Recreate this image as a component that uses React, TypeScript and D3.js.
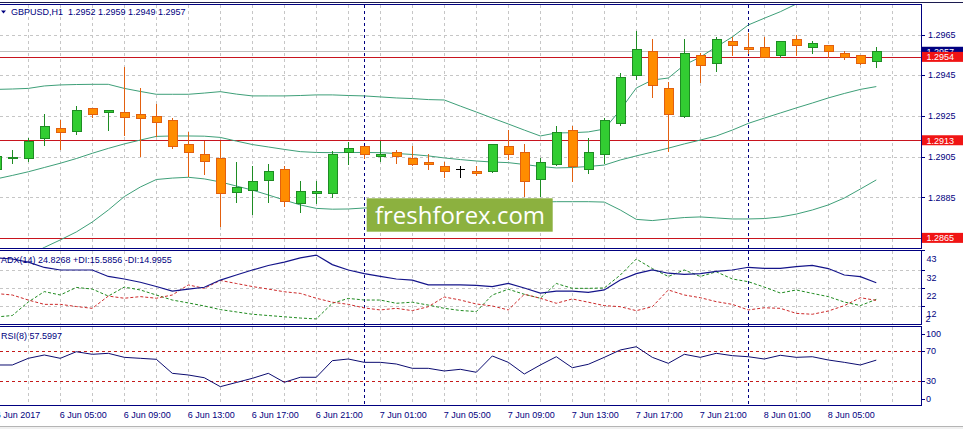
import React from 'react';
import * as d3 from 'd3';

// ---------- DATA ----------
const headerText = 'GBPUSD,H1  1.2952 1.2959 1.2949 1.2957';
const adxHeader = 'ADX(14) 24.8268 +DI:15.5856 -DI:14.9955';
const rsiHeader = 'RSI(8) 57.5997';

// H1 bars from 6 Jun 01:00 to 8 Jun 08:00 (56 bars)
const opens = [1.28990, 1.29043, 1.29041, 1.29140, 1.29189, 1.29177, 1.29287, 1.29268, 1.29268, 1.29258,
  1.29249, 1.29230, 1.29112, 1.29062, 1.29041, 1.28877, 1.28887, 1.28936, 1.28987, 1.28820,
  1.28869, 1.28869, 1.29071, 1.29100, 1.29051, 1.29071, 1.29041, 1.29023, 1.29002, 1.28989,
  1.28979, 1.28977, 1.29100, 1.29071, 1.28938, 1.29012, 1.29179, 1.28987, 1.29060, 1.29216,
  1.29449, 1.29567, 1.29385, 1.29248, 1.29548, 1.29508, 1.29617, 1.29587, 1.29587, 1.29548,
  1.29626, 1.29587, 1.29597, 1.29558, 1.29548, 1.29520];
const highs = [1.29058, 1.29082, 1.29140, 1.29258, 1.29230, 1.29297, 1.29291, 1.29279, 1.29492, 1.29385,
  1.29308, 1.29238, 1.29169, 1.29128, 1.29128, 1.29023, 1.29003, 1.29013, 1.29003, 1.28928,
  1.28928, 1.29079, 1.29120, 1.29104, 1.29128, 1.29082, 1.29102, 1.29062, 1.29023, 1.29005,
  1.29005, 1.29112, 1.29180, 1.29110, 1.29041, 1.29200, 1.29200, 1.29140, 1.29239, 1.29459,
  1.29666, 1.29626, 1.29415, 1.29626, 1.29558, 1.29636, 1.29636, 1.29656, 1.29636, 1.29618,
  1.29646, 1.29617, 1.29598, 1.29567, 1.29549, 1.29590];
const lows = [1.28979, 1.29020, 1.29030, 1.29107, 1.29087, 1.29159, 1.29246, 1.29180, 1.29156, 1.29053,
  1.29151, 1.29090, 1.28956, 1.28964, 1.28708, 1.28828, 1.28768, 1.28828, 1.28808, 1.28779,
  1.28820, 1.28853, 1.29012, 1.29041, 1.29030, 1.29020, 1.29010, 1.28987, 1.28948, 1.28948,
  1.28958, 1.28976, 1.29039, 1.28857, 1.28857, 1.29010, 1.28928, 1.28968, 1.29017, 1.29207,
  1.29430, 1.29344, 1.29079, 1.29244, 1.29418, 1.29469, 1.29548, 1.29558, 1.29537, 1.29538,
  1.29548, 1.29558, 1.29538, 1.29528, 1.29507, 1.29490];
const closes = [1.29053, 1.29049, 1.29128, 1.29200, 1.29169, 1.29277, 1.29258, 1.29277, 1.29246, 1.29238,
  1.29218, 1.29102, 1.29071, 1.29030, 1.28869, 1.28899, 1.28928, 1.28977, 1.28830, 1.28879,
  1.28879, 1.29062, 1.29091, 1.29061, 1.29062, 1.29051, 1.29012, 1.29012, 1.28977, 1.28989,
  1.28968, 1.29110, 1.29061, 1.28928, 1.29022, 1.29169, 1.29002, 1.29071, 1.29228, 1.29440,
  1.29577, 1.29400, 1.29258, 1.29558, 1.29499, 1.29626, 1.29597, 1.29577, 1.29538, 1.29617,
  1.29597, 1.29607, 1.29567, 1.29538, 1.29508, 1.29570];

const bbUpper = [1.29380, 1.29382, 1.29385, 1.29397, 1.29402, 1.29404, 1.29405, 1.29405, 1.29385, 1.29370,
  1.29356, 1.29356, 1.29356, 1.29362, 1.29369, 1.29357, 1.29348, 1.29348, 1.29348, 1.29350,
  1.29353, 1.29353, 1.29350, 1.29348, 1.29343, 1.29338, 1.29335, 1.29330, 1.29328, 1.29298,
  1.29269, 1.29239, 1.29210, 1.29180, 1.29151, 1.29166, 1.29167, 1.29171, 1.29185, 1.29279,
  1.29387, 1.29426, 1.29436, 1.29500, 1.29539, 1.29589, 1.29638, 1.29697, 1.29730, 1.29762,
  1.29800, 1.29834, 1.29864, 1.29888, 1.29908, 1.29923];
const bbMiddle = [1.28940, 1.28957, 1.28975, 1.28996, 1.29017, 1.29040, 1.29066, 1.29090, 1.29112, 1.29131,
  1.29149, 1.29151, 1.29151, 1.29150, 1.29144, 1.29126, 1.29109, 1.29097, 1.29085, 1.29074,
  1.29070, 1.29069, 1.29070, 1.29070, 1.29069, 1.29065, 1.29060, 1.29053, 1.29043, 1.29035,
  1.29028, 1.29023, 1.29020, 1.29011, 1.29001, 1.28994, 1.28996, 1.29001, 1.29008, 1.29033,
  1.29053, 1.29072, 1.29091, 1.29112, 1.29131, 1.29151, 1.29180, 1.29213, 1.29239, 1.29264,
  1.29289, 1.29313, 1.29338, 1.29360, 1.29380, 1.29394];
const bbLower = [1.28502, 1.28531, 1.28561, 1.28603, 1.28640, 1.28679, 1.28728, 1.28787, 1.28853, 1.28900,
  1.28937, 1.28944, 1.28948, 1.28940, 1.28925, 1.28905, 1.28885, 1.28861, 1.28836, 1.28812,
  1.28795, 1.28791, 1.28792, 1.28797, 1.28797, 1.28802, 1.28807, 1.28809, 1.28812, 1.28817,
  1.28819, 1.28822, 1.28824, 1.28826, 1.28826, 1.28828, 1.28828, 1.28828, 1.28826, 1.28787,
  1.28741, 1.28735, 1.28743, 1.28750, 1.28753, 1.28748, 1.28743, 1.28743, 1.28745, 1.28753,
  1.28767, 1.28787, 1.28812, 1.28846, 1.28890, 1.28935];

const adxValues = [38.6, 38.0, 36.3, 33.3, 31.9, 31.9, 31.9, 28.3, 26.9, 25.1,
  22.7, 20.2, 21.3, 22.3, 26.3, 29.1, 31.9, 34.4, 36.3, 38.6,
  40.2, 34.9, 31.9, 29.9, 28.3, 26.9, 26.3, 23.6, 23.6, 23.6,
  23.3, 22.7, 24.5, 21.9, 19.1, 20.2, 20.2, 19.5, 20.8, 26.3,
  29.9, 31.9, 30.1, 29.5, 29.9, 31.1, 31.9, 33.4, 32.8, 32.8,
  33.8, 34.5, 32.7, 29.1, 28.2, 24.83];
const plusDI = [5.8, 6.6, 14.1, 19.9, 18.0, 22.2, 21.3, 17.4, 22.4, 20.8,
  18.0, 15.2, 13.6, 11.9, 9.9, 8.6, 7.3, 6.6, 5.9, 5.2,
  4.7, 13.4, 16.1, 15.2, 15.2, 13.4, 14.0, 12.4, 10.6, 9.4,
  8.8, 18.0, 21.2, 18.4, 16.2, 24.4, 21.7, 21.7, 21.9, 29.1,
  38.0, 32.7, 28.3, 31.9, 28.3, 30.9, 26.9, 25.4, 22.4, 19.1,
  20.8, 18.9, 17.1, 14.1, 12.1, 15.59];
const minusDI = [18.8, 18.0, 15.2, 12.8, 12.8, 11.6, 10.6, 17.4, 16.2, 17.1,
  16.2, 18.0, 23.6, 21.7, 26.1, 24.4, 22.7, 21.3, 19.8, 18.9,
  16.2, 14.0, 12.8, 10.8, 9.7, 10.6, 9.3, 11.5, 16.9, 15.2,
  13.0, 11.9, 9.7, 18.4, 16.2, 13.4, 15.8, 14.0, 12.1, 11.5,
  9.3, 11.5, 20.8, 18.0, 16.5, 14.3, 12.8, 9.7, 10.9, 10.6,
  7.8, 7.3, 9.1, 12.1, 16.5, 15.0];
const rsiValues = [51.2, 51.2, 60.0, 64.4, 60.0, 68.7, 65.3, 66.6, 61.3, 60.0,
  58.7, 40.2, 38.0, 34.4, 22.6, 28.1, 33.6, 40.2, 28.4, 35.0,
  35.0, 56.9, 59.1, 54.7, 54.7, 52.5, 46.8, 46.8, 43.3, 45.5,
  41.6, 63.1, 54.7, 39.3, 51.2, 62.1, 47.6, 52.1, 61.3, 71.0,
  75.3, 61.3, 53.4, 65.3, 61.3, 66.6, 63.5, 62.1, 59.1, 64.0,
  61.3, 62.1, 57.8, 54.7, 51.2, 57.6];

const priceTicks = [1.2965, 1.2945, 1.2925, 1.2905, 1.2885];
const levelLines = [1.2954, 1.2913, 1.2865];
const currentPrice = 1.2957;
const adxTicks = [43, 32, 22, 12];
const adxMin = 2;
const rsiTicks = [100, 70, 30, 0];
const rsiLevels = [70, 30];
const timeLabels = ['6 Jun 2017', '6 Jun 05:00', '6 Jun 09:00', '6 Jun 13:00', '6 Jun 17:00', '6 Jun 21:00',
  '7 Jun 01:00', '7 Jun 05:00', '7 Jun 09:00', '7 Jun 13:00', '7 Jun 17:00', '7 Jun 21:00',
  '8 Jun 01:00', '8 Jun 05:00'];
const dayStartBars = [23, 47]; // 7 Jun 00:00, 8 Jun 00:00
const watermark = 'freshforex.com';

// ---------- STYLE ----------
const NAVY = '#000080';
const FONT = "'Liberation Sans', Arial, sans-serif";
const GRID = '#c6c6c6';
const BULL_FILL = '#32cd32';
const BULL_LINE = '#1e8c23';
const BEAR_FILL = '#ff8c00';
const BEAR_LINE = '#e2600f';
const BAND = '#3e9f78';
const LEVEL = '#c8141e';
const LEVEL_BOX = '#f01414';

export default function App() {
  const W = 963, H = 429;
  const plotRight = 921.5;
  const main = { top: 4.5, bottom: 248 };
  const adxP = { top: 250.5, bottom: 324.5 };
  const rsiP = { top: 326.5, bottom: 405 };

  const n = opens.length;
  const x = d3.scaleLinear().domain([0, 55]).range([-3.7, 876.3]);
  const yMain = d3.scaleLinear().domain([1.2885, 1.2965]).range([197.2, 34.5]);
  const yAdx = d3.scaleLinear().domain([2, 43]).range([323.8, 250]);
  const yRsi = d3.scaleLinear().domain([0, 100]).range([403.8, 328]);

  const idx = d3.range(n);
  const lineMain = (arr: number[]) => d3.line<number>().x((i) => x(i)).y((i) => yMain(arr[i]))(idx) || '';
  const lineAdx = (arr: number[]) => d3.line<number>().x((i) => x(i)).y((i) => yAdx(arr[i]))(idx) || '';
  const lineRsi = d3.line<number>().x((i) => x(i)).y((i) => yRsi(rsiValues[i]))(idx) || '';

  const gridXs = d3.range(2, 57, 2).map((j) => Math.round(x(j)) + 0.5);
  const crisp = (v: number) => Math.round(v) + 0.5;

  const panels = [main, adxP, rsiP];

  return (
    <svg width={W} height={H} style={{ position: 'absolute', left: 0, top: 0, background: '#fff' }}
      fontFamily={FONT}>
      <defs>
        <clipPath id="clipMain"><rect x={0} y={main.top} width={plotRight} height={main.bottom - main.top} /></clipPath>
        <clipPath id="clipAdx"><rect x={0} y={adxP.top} width={plotRight} height={adxP.bottom - adxP.top} /></clipPath>
        <clipPath id="clipRsi"><rect x={0} y={rsiP.top} width={plotRight} height={rsiP.bottom - rsiP.top} /></clipPath>
      </defs>
      <rect x={0} y={0} width={W} height={H} fill="#fff" />

      {/* vertical grid */}
      {panels.map((p, k) => (
        <g key={'vg' + k}>
          {gridXs.map((gx) => (
            <line key={gx} x1={gx} x2={gx} y1={p.top} y2={p.bottom} stroke={GRID} strokeDasharray="3,3" shapeRendering="crispEdges" />
          ))}
        </g>
      ))}

      {/* main horizontal grid */}
      {[...priceTicks, 1.2865].map((p) => (
        <line key={'hg' + p} x1={0} x2={plotRight} y1={crisp(yMain(p))} y2={crisp(yMain(p))} stroke={GRID} strokeDasharray="3,3" shapeRendering="crispEdges" />
      ))}
      {/* adx horizontal grid */}
      {adxTicks.slice(1).map((v) => (
        <line key={'ag' + v} x1={0} x2={plotRight} y1={crisp(yAdx(v))} y2={crisp(yAdx(v))} stroke={GRID} strokeDasharray="3,3" shapeRendering="crispEdges" />
      ))}

      {/* bid line */}
      <line x1={0} x2={plotRight} y1={crisp(yMain(currentPrice))} y2={crisp(yMain(currentPrice))} stroke="#c0c0c0" shapeRendering="crispEdges" />

      {/* day separators */}
      {dayStartBars.map((b) => (
        <line key={'sep' + b} x1={crisp(x(b))} x2={crisp(x(b))} y1={main.top} y2={rsiP.bottom} stroke={NAVY} strokeDasharray="3,3" shapeRendering="crispEdges" />
      ))}

      <g clipPath="url(#clipMain)">
        {/* horizontal levels */}
        {levelLines.map((p) => (
          <line key={'lv' + p} x1={0} x2={plotRight} y1={crisp(yMain(p))} y2={crisp(yMain(p))} stroke={LEVEL} shapeRendering="crispEdges" />
        ))}
        {/* bollinger bands */}
        {[bbUpper, bbMiddle, bbLower].map((arr, k) => (
          <path key={'bb' + k} d={lineMain(arr)} fill="none" stroke={BAND} strokeWidth={1} />
        ))}
        {/* candles */}
        {idx.map((i) => {
          const o = opens[i], c = closes[i], h = highs[i], l = lows[i];
          const cx = Math.round(x(i));
          const bull = c > o;
          const doji = Math.abs(c - o) < 0.000005;
          const lineCol = doji ? '#000' : bull ? BULL_LINE : BEAR_LINE;
          const fillCol = bull ? BULL_FILL : BEAR_FILL;
          const yTop = Math.round(yMain(Math.max(o, c)));
          const yBot = Math.round(yMain(Math.min(o, c)));
          return (
            <g key={'c' + i} shapeRendering="crispEdges">
              <line x1={cx + 0.5} x2={cx + 0.5} y1={Math.round(yMain(h))} y2={Math.round(yMain(l)) + 1} stroke={lineCol} />
              {doji ? (
                <line x1={cx - 4} x2={cx + 5} y1={yTop + 0.5} y2={yTop + 0.5} stroke={lineCol} />
              ) : (
                <rect x={cx - 4} y={yTop + 0.5} width={9} height={Math.max(1, yBot - yTop)} fill={fillCol} stroke={lineCol} />
              )}
            </g>
          );
        })}
        {/* watermark */}
        <rect x={366.7} y={198.3} width={186} height={33.4} fill="#8cb13f" />
        <text x={375} y={224.3} fill="#fff" fontFamily="'Open Sans', 'DejaVu Sans', sans-serif" fontSize={24}
          textLength={170} lengthAdjust="spacingAndGlyphs">{watermark}</text>
      </g>

      {/* ADX panel */}
      <g clipPath="url(#clipAdx)">
        <path d={lineAdx(plusDI)} fill="none" stroke="#1f8a1f" strokeDasharray="3,2" />
        <path d={lineAdx(minusDI)} fill="none" stroke="#cc2a2a" strokeDasharray="3,2" />
        <path d={lineAdx(adxValues)} fill="none" stroke="#14148a" strokeWidth={1.2} />
      </g>

      {/* RSI panel */}
      <g clipPath="url(#clipRsi)">
        {rsiLevels.map((v) => (
          <line key={'rl' + v} x1={0} x2={plotRight} y1={crisp(yRsi(v))} y2={crisp(yRsi(v))} stroke="#c41a1a" strokeDasharray="3,3" shapeRendering="crispEdges" />
        ))}
        <path d={lineRsi} fill="none" stroke="#0c0c70" strokeWidth={1} />
      </g>

      {/* frames */}
      <line x1={0} x2={W} y1={2.5} y2={2.5} stroke="#1c1c50" shapeRendering="crispEdges" />
      {panels.map((p, k) => (
        <g key={'fr' + k} shapeRendering="crispEdges">
          <line x1={0} x2={plotRight} y1={p.top} y2={p.top} stroke={NAVY} />
          <line x1={0} x2={plotRight} y1={p.bottom} y2={p.bottom} stroke={NAVY} />
          <line x1={plotRight} x2={plotRight} y1={p.top} y2={p.bottom} stroke={NAVY} />
        </g>
      ))}
      <line x1={0} x2={W} y1={426.5} y2={426.5} stroke="#b4b4b4" shapeRendering="crispEdges" />
      <rect x={0} y={427} width={W} height={2} fill="#f0f0f0" />

      {/* price axis */}
      {priceTicks.map((p) => (
        <g key={'pt' + p}>
          <line x1={plotRight} x2={plotRight + 3} y1={crisp(yMain(p))} y2={crisp(yMain(p))} stroke={NAVY} shapeRendering="crispEdges" />
          <text x={928} y={yMain(p) + 3.3} fontSize={9} fill={NAVY}>{d3.format('.4f')(p)}</text>
        </g>
      ))}
      {/* current price label */}
      <rect x={plotRight + 0.5} y={yMain(currentPrice) - 4} width={W - plotRight} height={10} fill={NAVY} />
      <text x={926.5} y={yMain(currentPrice) + 4.3} fontSize={9} fill="#fff">{d3.format('.4f')(currentPrice)}</text>
      {levelLines.map((p) => (
        <g key={'lb' + p}>
          <rect x={plotRight + 0.5} y={yMain(p) - 5} width={W - plotRight} height={10} fill={LEVEL_BOX} />
          <text x={926.5} y={yMain(p) + 3.3} fontSize={9} fill="#fff">{d3.format('.4f')(p)}</text>
        </g>
      ))}

      {/* ADX axis */}
      {adxTicks.map((v) => (
        <g key={'at' + v}>
          <line x1={plotRight} x2={plotRight + 3} y1={crisp(yAdx(v))} y2={crisp(yAdx(v))} stroke={NAVY} shapeRendering="crispEdges" />
          <text x={926.5} y={yAdx(v) + 11.5} fontSize={9} fill={NAVY}>{v}</text>
        </g>
      ))}
      <text x={925.5} y={yAdx(adxMin) - 1.5} fontSize={9} fill={NAVY}>{adxMin}</text>

      {/* RSI axis */}
      {rsiTicks.map((v) => {
        const yy = Math.min(Math.max(yRsi(v), rsiP.top + 7.5), rsiP.bottom - 6);
        return (
          <g key={'rt' + v}>
            <line x1={plotRight} x2={plotRight + 3} y1={crisp(yy)} y2={crisp(yy)} stroke={NAVY} shapeRendering="crispEdges" />
            <text x={926} y={yy + 3.3} fontSize={9} fill={NAVY}>{v}</text>
          </g>
        );
      })}

      {/* time axis */}
      {timeLabels.map((t, k) => (
        <text key={'tl' + k} x={x(k * 4) - 0.5} y={418.3} fontSize={9} fill={NAVY}>{t}</text>
      ))}

      {/* headers */}
      <path d="M1,10.5 L6,10.5 L3.5,13.5 Z" fill={NAVY} />
      <text x={11} y={15.2} fontSize={9} fill={NAVY} xmlSpace="preserve" style={{ whiteSpace: 'pre' }}>{headerText}</text>
      <text x={1} y={263} fontSize={9} fill={NAVY}>{adxHeader}</text>
      <text x={1} y={339} fontSize={9} fill={NAVY}>{rsiHeader}</text>
    </svg>
  );
}
